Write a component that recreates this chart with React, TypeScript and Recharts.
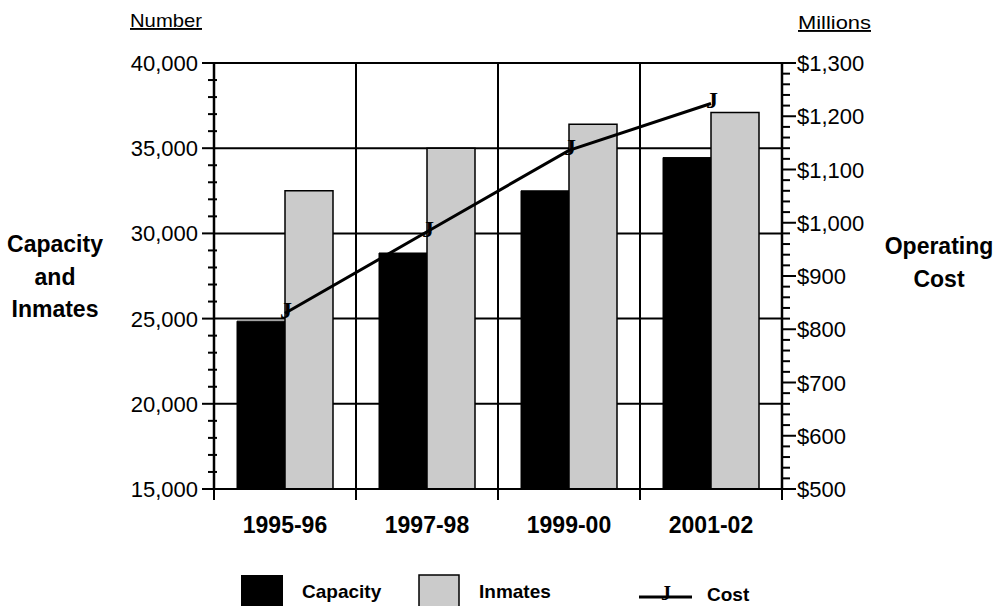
import React from 'react';
import { ComposedChart, Bar, Line, XAxis, YAxis, CartesianGrid } from 'recharts';

const years = ['1995-96', '1997-98', '1999-00', '2001-02'];
const capacity = [24850, 28850, 32500, 34450];
const inmates = [32500, 35000, 36400, 37100];
const cost = [830, 983, 1136, 1224];

const leftTicks: number[] = [];
for (let v = 15000; v <= 40000; v += 1000) leftTicks.push(v);
const leftMajor = [20000, 25000, 30000, 35000, 40000];
const rightTicks: number[] = [];
for (let v = 500; v <= 1300; v += 20) rightTicks.push(v);

const data = years.map((y, i) => ({ year: y, capacity: capacity[i], inmates: inmates[i], cost: cost[i] }));

const SANS = 'Liberation Sans, Arial, Helvetica, sans-serif';
const SERIF = 'Liberation Serif, Times New Roman, serif';
const GRAY = '#cbcbcb';

const LeftTick = (props: any) => {
  const { x, y, payload } = props;
  const v = payload.value;
  if (v % 5000 === 0) {
    return (
      <g>
        <line x1={x - 12} x2={x} y1={y} y2={y} stroke="#000" strokeWidth={2} />
        <text x={x - 16} y={y} dy={8} textAnchor="end" fontSize={22} fontFamily={SANS} fill="#000">
          {v.toLocaleString('en-US')}
        </text>
      </g>
    );
  }
  return <line x1={x - 6} x2={x + 3} y1={y} y2={y} stroke="#000" strokeWidth={2} />;
};

const RightTick = (props: any) => {
  const { x, y, payload } = props;
  const v = payload.value;
  if (v % 100 === 0) {
    return (
      <g>
        <line x1={x} x2={x + 14} y1={y} y2={y} stroke="#000" strokeWidth={2} />
        <text x={x + 15} y={y} dy={8} textAnchor="start" fontSize={22} fontFamily={SANS} fill="#000">
          {'$' + v.toLocaleString('en-US')}
        </text>
      </g>
    );
  }
  return <line x1={x} x2={x + 8} y1={y} y2={y} stroke="#000" strokeWidth={2} />;
};

const XTick = (props: any) => {
  const { x, y, payload, index } = props;
  const off = payload && typeof payload.offset === 'number' && payload.offset > 0 ? payload.offset : 71;
  return (
    <g>
      <line x1={x - off} x2={x - off} y1={y} y2={y + 11} stroke="#000" strokeWidth={2} />
      {index === years.length - 1 ? (
        <line x1={x + off} x2={x + off} y1={y} y2={y + 11} stroke="#000" strokeWidth={2} />
      ) : null}
      <text x={x} y={y} dy={44} textAnchor="middle" fontSize={23} fontWeight="bold" fontFamily={SANS} fill="#000">
        {payload.value}
      </text>
    </g>
  );
};

const JDot = (props: any) => {
  const { cx, cy, index } = props;
  if (cx == null || cy == null) return <g key={index} />;
  return (
    <text key={index} x={cx + 1} y={cy + 5} textAnchor="middle" fontSize={24} fontWeight="bold" fontFamily={SERIF} fill="#000">
      J
    </text>
  );
};

const vGen = (args: any) => {
  const xAxis = args && args.xAxis;
  const s = xAxis && xAxis.scale;
  if (typeof s === 'function' && typeof s.bandwidth === 'function') {
    return years.slice(1).map((y) => s(y));
  }
  const off = args.offset;
  return years.slice(1).map((_, i) => off.left + ((i + 1) * off.width) / years.length);
};

export default function App() {
  return (
    <div style={{ position: 'absolute', left: 0, top: 0, width: 993, height: 606, overflow: 'hidden', background: '#fff', fontFamily: SANS }}>
      <ComposedChart width={993} height={606} data={data} margin={{ top: 63, right: 0, bottom: 0, left: 0 }} barGap={0}>
        <CartesianGrid
          yAxisId="left"
          stroke="#000"
          strokeWidth={2}
          horizontalValues={leftMajor}
          verticalCoordinatesGenerator={vGen}
        />
        <XAxis
          dataKey="year"
          height={117}
          axisLine={{ stroke: '#000', strokeWidth: 2 }}
          tickLine={false}
          tickSize={0}
          tickMargin={0}
          tick={<XTick />}
          interval={0}
        />
        <YAxis
          yAxisId="left"
          orientation="left"
          width={214}
          domain={[15000, 40000]}
          ticks={leftTicks}
          interval={0}
          allowDataOverflow
          axisLine={{ stroke: '#000', strokeWidth: 2.5 }}
          tickLine={false}
          tickSize={0}
          tickMargin={0}
          tick={<LeftTick />}
        />
        <YAxis
          yAxisId="right"
          orientation="right"
          width={211}
          domain={[500, 1300]}
          ticks={rightTicks}
          interval={0}
          allowDataOverflow
          axisLine={{ stroke: '#000', strokeWidth: 2.5 }}
          tickLine={false}
          tickSize={0}
          tickMargin={0}
          tick={<RightTick />}
        />
        <Bar yAxisId="left" dataKey="capacity" fill="#000" stroke="#000" strokeWidth={1} barSize={48} isAnimationActive={false} />
        <Bar yAxisId="left" dataKey="inmates" fill={GRAY} stroke="#000" strokeWidth={1.5} barSize={48} isAnimationActive={false} />
        <Line yAxisId="right" dataKey="cost" stroke="#000" strokeWidth={3} dot={(p: any) => <JDot {...p} />} activeDot={false} isAnimationActive={false} />
      </ComposedChart>
      <svg width={993} height={606} style={{ position: 'absolute', left: 0, top: 0, pointerEvents: 'none' }}>
        <text x={130} y={27} fontSize={19} fontFamily={SANS} textLength={72} lengthAdjust="spacingAndGlyphs" style={{ textDecoration: 'underline' }}>Number</text>
        <text x={798} y={29} fontSize={19} fontFamily={SANS} textLength={73} lengthAdjust="spacingAndGlyphs" style={{ textDecoration: 'underline' }}>Millions</text>
        <g fontSize={23} fontWeight="bold" fontFamily={SANS} textAnchor="middle">
          <text x={55} y={252}>Capacity</text>
          <text x={55} y={285}>and</text>
          <text x={55} y={317}>Inmates</text>
          <text x={939} y={254}>Operating</text>
          <text x={939} y={287}>Cost</text>
        </g>
        <rect x={241} y={575} width={42} height={42} fill="#000" />
        <text x={302} y={598} fontSize={19} fontWeight="bold" fontFamily={SANS}>Capacity</text>
        <rect x={419} y={575} width={40} height={42} fill={GRAY} stroke="#000" strokeWidth={1.5} />
        <text x={479} y={598} fontSize={19} fontWeight="bold" fontFamily={SANS}>Inmates</text>
        <line x1={639} x2={692} y1={597} y2={597} stroke="#000" strokeWidth={3} />
        <text x={666} y={600} textAnchor="middle" fontSize={20} fontWeight="bold" fontFamily={SERIF}>J</text>
        <text x={707} y={601} fontSize={19} fontWeight="bold" fontFamily={SANS}>Cost</text>
      </svg>
    </div>
  );
}
